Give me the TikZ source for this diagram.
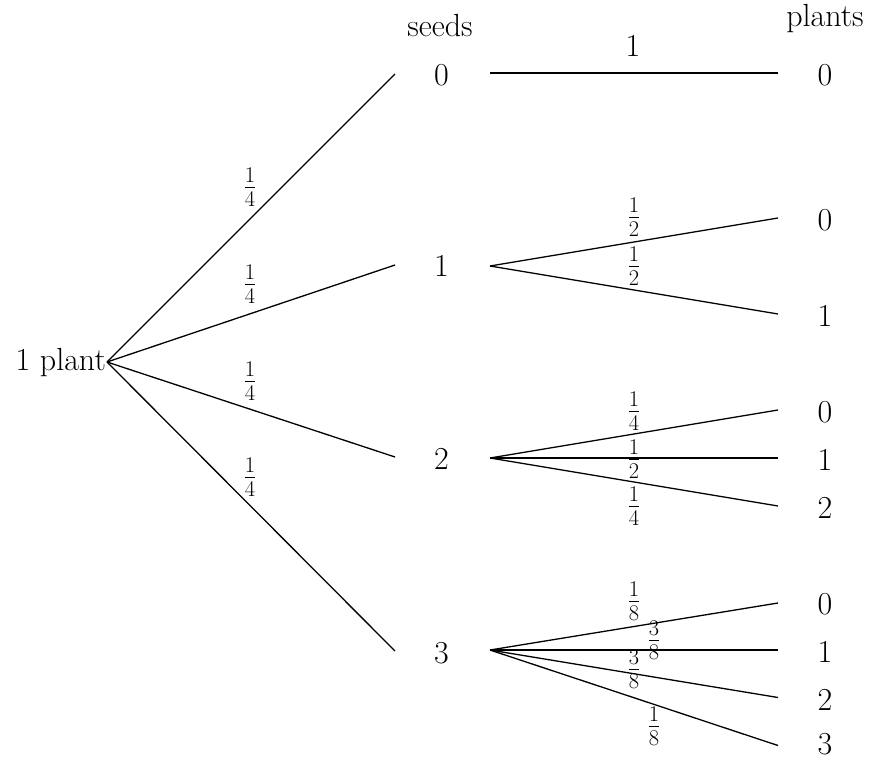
\RequirePackage{fix-cm}
\documentclass[tikz,border=0pt]{standalone}
\usepackage{fontspec}
\begin{document}
\begin{tikzpicture}[x=1pt,y=-1pt,
  every node/.style={font=\fontsize{32}{38}\selectfont, inner sep=0pt},
  thinline/.style={line width=1.3pt},
  thickline/.style={line width=2.6pt}]
\useasboundingbox (0,0) rectangle (869,757);
% headers
\node[anchor=base] (hseeds) at (440,37) {seeds};
\node[anchor=base] (hplants) at (825,27) {plants};
% root
\node[anchor=base east] (root) at (106,370) {1 plant};
\coordinate (r) at (107,362);
% seed numbers
\node (s0) at (441.5,75.5) {0};
\node (s1) at (441.5,266) {1};
\node (s2) at (441.5,459) {2};
\node (s3) at (441.5,653) {3};
\coordinate (a0) at (395,74);
\coordinate (a1) at (395,265);
\coordinate (a2) at (395,457);
\coordinate (a3) at (395,651);
\coordinate (b0) at (490,73);
\coordinate (b1) at (490,266);
\coordinate (b2) at (490,458);
\coordinate (b3) at (490,650);
% plant numbers
\node (p00) at (825,75.5) {0};
\node (p10) at (825,220) {0};
\node (p11) at (825,316) {1};
\node (p20) at (825,412) {0};
\node (p21) at (825,460) {1};
\node (p22) at (825,507.5) {2};
\node (p30) at (825,604.5) {0};
\node (p31) at (825,651.5) {1};
\node (p32) at (825,699.5) {2};
\node (p33) at (825,744) {3};
\coordinate (e00) at (778,73);
\coordinate (e10) at (778,218);
\coordinate (e11) at (778,314);
\coordinate (e20) at (778,410);
\coordinate (e21) at (778,458);
\coordinate (e22) at (778,506);
\coordinate (e30) at (778,603);
\coordinate (e31) at (778,650);
\coordinate (e32) at (778,697.5);
\coordinate (e33) at (778,745.5);
% first stage
\draw[thinline] (r) -- (a0);
\draw[thinline] (r) -- (a1);
\draw[thinline] (r) -- (a2);
\draw[thinline] (r) -- (a3);
% second stage
\draw[thickline] (b0) -- (e00);
\draw[thinline] (b1) -- (e10);
\draw[thinline] (b1) -- (e11);
\draw[thinline] (b2) -- (e20);
\draw[thickline] (b2) -- (e21);
\draw[thinline] (b2) -- (e22);
\draw[thinline] (b3) -- (e30);
\draw[thickline] (b3) -- (e31);
\draw[thinline] (b3) -- (e32);
\draw[thinline] (b3) -- (e33);
% labels
\node (l0) at (250,187) {$\frac14$};
\node (l1) at (250,284) {$\frac14$};
\node (l2) at (250,381) {$\frac14$};
\node (l3) at (250,477) {$\frac14$};
\node (m00) at (633,45.5) {1};
\node (m10) at (634,217) {$\frac12$};
\node (m11) at (634,266) {$\frac12$};
\node (m20) at (634,411) {$\frac14$};
\node (m21) at (634,459) {$\frac12$};
\node (m22) at (634,506) {$\frac14$};
\node (m30) at (634,601) {$\frac18$};
\node (m31) at (654,640) {$\frac38$};
\node (m32) at (634,669) {$\frac38$};
\node (m33) at (654,726) {$\frac18$};
\end{tikzpicture}
\end{document}
